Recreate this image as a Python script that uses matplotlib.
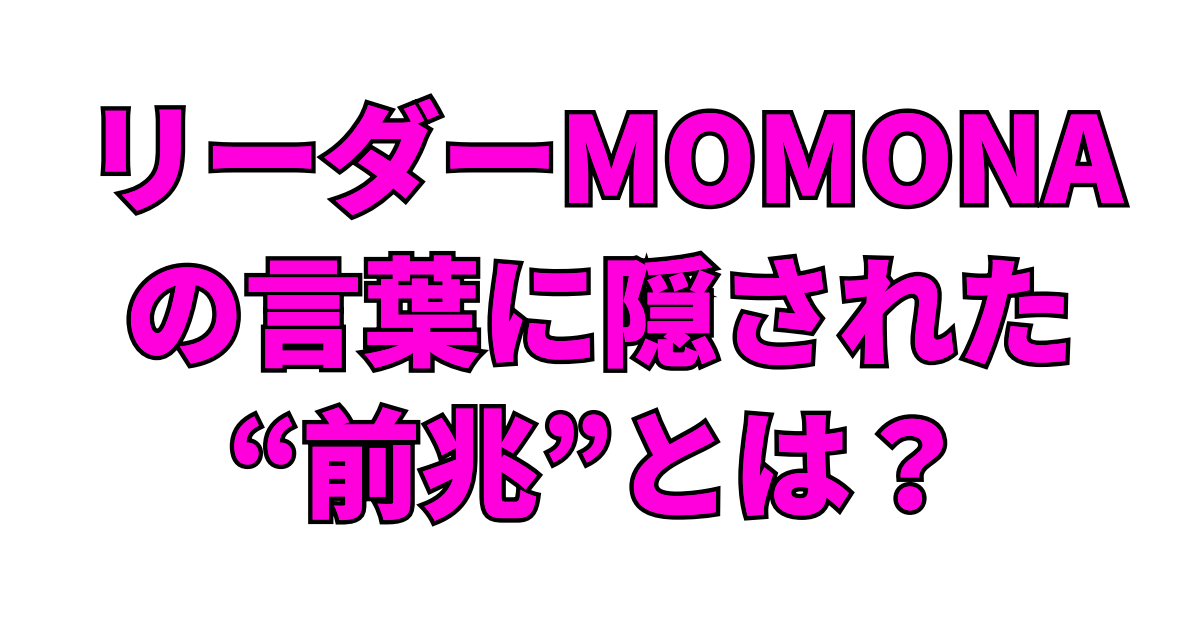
import matplotlib
matplotlib.use("Agg")
import matplotlib.pyplot as plt
import matplotlib.patheffects as pe

plt.rcParams["font.family"] = ["Noto Sans CJK JP", "DejaVu Sans"]

# Title lines and their vertical centres (figure fraction)
lines = ["リーダーMOMONA", "の言葉に隠された", "“前兆”とは？"]
line_y = [1 - 168 / 630, 1 - 322 / 630, 1 - 474 / 630]
line_x = [0.503, 0.5, 0.499]

fill = "#FF00DD"
edge = "#000000"

fig = plt.figure(figsize=(12, 6.3), dpi=100)
fig.patch.set_facecolor("white")

for txt, x, y in zip(lines, line_x, line_y):
    fig.text(
        x, y, txt,
        ha="center", va="center",
        fontsize=85.5, fontweight="heavy", color=fill,
        path_effects=[
            pe.withStroke(linewidth=6.5, foreground=edge, joinstyle="miter"),
            pe.Normal(),
        ],
    )

fig.savefig("out.png", dpi=100, facecolor="white")
